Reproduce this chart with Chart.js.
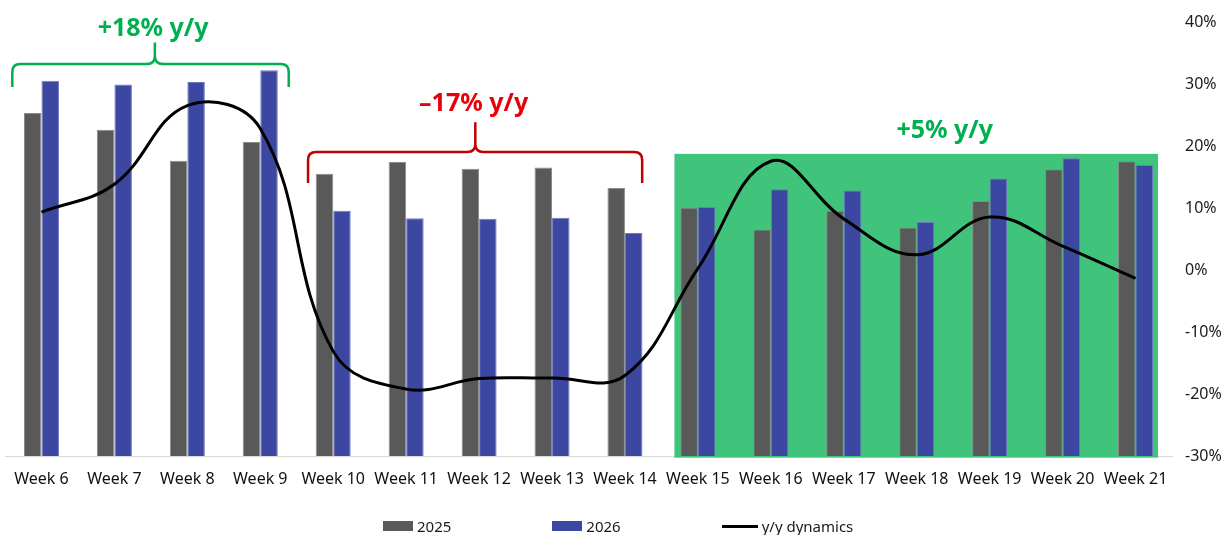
<!DOCTYPE html>
<html>
<head>
<meta charset="utf-8">
<script src="https://cdn.jsdelivr.net/npm/chart.js@4.4.1/dist/chart.umd.min.js"></script>
<style>
  html, body { margin: 0; padding: 0; background: #ffffff; }
  #wrap { position: relative; width: 1228px; height: 535px; }
  #legend {
    position: absolute; left: 383px; top: 516px;
    display: flex; align-items: center; gap: 101px;
    font-family: "Noto Sans", sans-serif; font-size: 15px; color: #1a1a1a;
  }
  #legend .item { display: flex; align-items: center; gap: 4px; white-space: nowrap; }
  #legend .box { display: inline-block; width: 30px; height: 10px; }
  #legend .line { display: inline-block; width: 36px; height: 3px; background: #000; }
</style>
</head>
<body>
<div id="wrap">
  <canvas id="chart"></canvas>
  <div id="legend"></div>
</div>
<script>
// Weekly volumes for both years and the year-over-year change (%)
const weeks = ['Week 6', 'Week 7', 'Week 8', 'Week 9', 'Week 10', 'Week 11', 'Week 12', 'Week 13',
               'Week 14', 'Week 15', 'Week 16', 'Week 17', 'Week 18', 'Week 19', 'Week 20', 'Week 21'];
const volume2025 = [55.4, 52.7, 47.7, 50.7, 45.6, 47.5, 46.4, 46.6, 43.3, 40.1, 36.6, 39.6, 36.9, 41.2, 46.3, 47.6];
const volume2026 = [60.6, 60.0, 60.4, 62.3, 39.6, 38.4, 38.3, 38.5, 36.0, 40.2, 43.1, 42.9, 37.8, 44.8, 48.1, 47.0];
const yoyChange  = [9.4, 13.9, 26.6, 22.9, -13.1, -19.2, -17.5, -17.4, -17.0, 0.3, 17.6, 8.3, 2.5, 8.6, 3.9, -1.3];
const seriesNames = ['2025', '2026', 'y/y dynamics'];
const periodNotes = ['+18% y/y', '\u201317% y/y', '+5% y/y'];

// Call-outs placed in axis units (x: category index, y: % on the right axis)
const braces = [
  { from: -0.40, to: 3.39, tip: 1.555, bar: 33.3, ends: 29.6, top: 36.8, color: '#00B050' },
  { from: 3.655, to: 8.236, tip: 5.948, bar: 19.1, ends: 14.1, top: 23.9, color: '#C00000' }
];
const noteSpots = [
  { at: 1.53, y: 37.9, color: '#00B050' },
  { at: 5.925, y: 25.7, color: '#E8000B' },
  { at: 12.384, y: 21.3, color: '#00B050' }
];
const band = { from: 8.678, to: 15.308, top: 18.8, color: '#40C47B', edge: '#7fd9a6' };

const colors = { y2025: '#595959', y2026: '#3B47A0', line: '#000000' };

Chart.defaults.font.family = '"Noto Sans", sans-serif';
Chart.defaults.color = '#1a1a1a';

const calloutPlugin = {
  id: 'callouts',
  beforeDatasetsDraw(chart) {
    const { ctx } = chart;
    const x = chart.scales.x, y = chart.scales.y1;
    const left = x.getPixelForValue(band.from), right = x.getPixelForValue(band.to);
    const top = y.getPixelForValue(band.top);
    const bottom = chart.chartArea.bottom + 2;
    ctx.save();
    ctx.fillStyle = band.color;
    ctx.fillRect(left, top, right - left, bottom - top);
    ctx.fillStyle = band.edge;
    ctx.fillRect(left, bottom - 1, right - left, 1);
    ctx.restore();
  },
  afterDatasetsDraw(chart) {
    const { ctx } = chart;
    const x = chart.scales.x, y = chart.scales.y1;
    ctx.save();
    braces.forEach(b => {
      const x0 = x.getPixelForValue(b.from), x1 = x.getPixelForValue(b.to), xc = x.getPixelForValue(b.tip);
      const yH = y.getPixelForValue(b.bar), yE = y.getPixelForValue(b.ends), yT = y.getPixelForValue(b.top);
      const r = 8;
      ctx.beginPath();
      ctx.moveTo(x0, yE);
      ctx.lineTo(x0, yH + r);
      ctx.quadraticCurveTo(x0, yH, x0 + r, yH);
      ctx.lineTo(xc - r, yH);
      ctx.quadraticCurveTo(xc, yH, xc, yH - r);
      ctx.lineTo(xc, yT);
      ctx.moveTo(xc, yH - r);
      ctx.quadraticCurveTo(xc, yH, xc + r, yH);
      ctx.lineTo(x1 - r, yH);
      ctx.quadraticCurveTo(x1, yH, x1, yH + r);
      ctx.lineTo(x1, yE);
      ctx.strokeStyle = b.color;
      ctx.lineWidth = 2.5;
      ctx.lineJoin = 'round';
      ctx.stroke();
    });
    ctx.font = 'bold 25px "Noto Sans", sans-serif';
    ctx.textAlign = 'center';
    ctx.textBaseline = 'alphabetic';
    noteSpots.forEach((n, i) => {
      ctx.fillStyle = n.color;
      ctx.fillText(periodNotes[i], x.getPixelForValue(n.at), y.getPixelForValue(n.y));
    });
    ctx.restore();
  }
};

const chart = new Chart(document.getElementById('chart'), {
  data: {
    labels: weeks,
    datasets: [
      { type: 'bar', label: seriesNames[0], data: volume2025, yAxisID: 'y', order: 1,
        backgroundColor: colors.y2025, borderColor: '#8a8a8a', borderWidth: 1,
        categoryPercentage: 0.48, barPercentage: 1.0 },
      { type: 'bar', label: seriesNames[1], data: volume2026, yAxisID: 'y', order: 1,
        backgroundColor: colors.y2026, borderColor: '#6f79c0', borderWidth: 1,
        categoryPercentage: 0.48, barPercentage: 1.0 },
      { type: 'line', label: seriesNames[2], data: yoyChange, yAxisID: 'y1', order: 0,
        borderColor: colors.line, backgroundColor: colors.line, borderWidth: 3,
        pointRadius: 0, tension: 0.4, fill: false }
    ]
  },
  options: {
    responsive: true,
    maintainAspectRatio: false,
    animation: false,
    layout: { padding: { top: 22, left: 5, right: 0, bottom: 39 } },
    plugins: { legend: { display: false }, tooltip: { enabled: false } },
    scales: {
      x: {
        grid: { display: false, drawTicks: false },
        border: { display: true, color: '#d9d9d9', width: 1 },
        ticks: { padding: 14, font: { size: 16 }, color: '#111111', maxRotation: 0, autoSkip: false },
        afterFit(scale) { scale.height = 40; }
      },
      y: { display: false, min: 0, max: 70 },
      y1: {
        position: 'right', min: -30, max: 40,
        grid: { display: false, drawTicks: false },
        border: { display: false },
        ticks: { stepSize: 10, padding: 13, font: { size: 16 }, color: '#1a1a1a',
                 callback: v => v + '%' },
        afterFit(scale) { scale.width = 56; }
      }
    }
  },
  plugins: [calloutPlugin]
});

// Legend built from the chart's datasets
const legend = document.getElementById('legend');
chart.data.datasets.forEach(ds => {
  const item = document.createElement('span');
  item.className = 'item';
  const mark = document.createElement('span');
  if (ds.type === 'line') {
    mark.className = 'line';
  } else {
    mark.className = 'box';
    mark.style.background = ds.backgroundColor;
  }
  const text = document.createElement('span');
  text.textContent = ds.label;
  item.appendChild(mark);
  item.appendChild(text);
  legend.appendChild(item);
});
</script>
</body>
</html>
